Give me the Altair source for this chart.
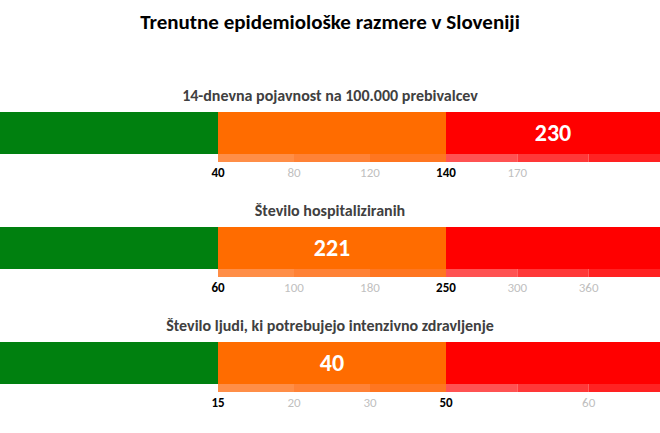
import altair as alt
import pandas as pd

FONT = "Carlito, Lato, 'Open Sans', sans-serif"

main_title = "Trenutne epidemiološke razmere v Sloveniji"
row_titles = [
    "14-dnevna pojavnost na 100.000 prebivalcev",
    "Število hospitaliziranih",
    "Število ljudi, ki potrebujejo intenzivno zdravljenje",
]
current_values = [230, 221, 40]
current_zone = [2, 1, 1]  # 0 green, 1 orange, 2 red

zone_colors = ["#00800F", "#FF6C00", "#FF0000"]
zone_start = [0, 3, 6]
zone_end = [3, 6, 9]

strip_start = [3, 4, 5, 6, 7, 8]
strip_end = [4, 5, 6, 7, 8, 9]
strip_colors = ["#FF8E47", "#FF8236", "#FF7620", "#FF5252", "#FF3838", "#FF2222"]

tick_labels = [
    ["40", "80", "120", "140", "170"],
    ["60", "100", "180", "250", "300", "360"],
    ["15", "20", "30", "50", "60"],
]
tick_slots = [
    [3, 4, 5, 6, 7],
    [3, 4, 5, 6, 7, 8],
    [3, 4, 5, 6, 8],
]
major_slots = [3, 6]

W = 660
H = 68
# piecewise layout scale: zone edges drawn at these pixel positions
xscale = alt.Scale(domain=[0, 3, 6, 9], range=[0, 218, 446, W], nice=False, zero=False)
BAR_TOP, BAR_BOT, STRIP_BOT, LABEL_Y = 0, 42, 50, 61

zones_df = pd.DataFrame({"s": zone_start, "e": zone_end, "c": zone_colors})
strip_df = pd.DataFrame({"s": strip_start, "e": strip_end, "c": strip_colors})


def make_row(i):
    zones = alt.Chart(zones_df).mark_rect().encode(
        x=alt.X("s:Q", scale=xscale, axis=None),
        x2="e:Q",
        y=alt.value(BAR_TOP),
        y2=alt.value(BAR_BOT),
        color=alt.Color("c:N", scale=None),
    )
    strip = alt.Chart(strip_df).mark_rect().encode(
        x=alt.X("s:Q", scale=xscale, axis=None),
        x2="e:Q",
        y=alt.value(BAR_BOT),
        y2=alt.value(STRIP_BOT),
        color=alt.Color("c:N", scale=None),
    )
    tdf = pd.DataFrame({
        "pos": tick_slots[i],
        "lab": tick_labels[i],
        "major": [p in major_slots for p in tick_slots[i]],
    })
    ticks_major = alt.Chart(tdf).transform_filter("datum.major").mark_text(
        font=FONT, fontSize=13, fontWeight="bold", color="#000000", baseline="middle"
    ).encode(x=alt.X("pos:Q", scale=xscale, axis=None), y=alt.value(LABEL_Y), text="lab:N")
    ticks_minor = alt.Chart(tdf).transform_filter("!datum.major").mark_text(
        font=FONT, fontSize=13, color="#BFBFBF", baseline="middle"
    ).encode(x=alt.X("pos:Q", scale=xscale, axis=None), y=alt.value(LABEL_Y), text="lab:N")
    z = current_zone[i]
    vdf = pd.DataFrame({
        "pos": [(zone_start[z] + zone_end[z]) / 2],
        "val": [str(current_values[i])],
    })
    val = alt.Chart(vdf).mark_text(
        font=FONT, fontSize=24, fontWeight="bold", color="white", baseline="middle"
    ).encode(x=alt.X("pos:Q", scale=xscale, axis=None), y=alt.value(22), text="val:N")
    return alt.layer(zones, strip, ticks_major, ticks_minor, val).properties(
        width=W,
        height=H,
        title=alt.TitleParams(
            row_titles[i], font=FONT, fontSize=16, fontWeight="bold",
            color="#404040", anchor="middle", offset=8,
        ),
    )


chart = alt.vconcat(*[make_row(i) for i in range(3)], spacing=23).properties(
    title=alt.TitleParams(
        main_title, font=FONT, fontSize=21, fontWeight="bold", color="#000000",
        anchor="middle", offset=55,
    ),
    padding={"left": 0, "right": 0, "top": 12, "bottom": 0},
    background="white",
).configure_view(stroke=None)

chart.save("out.html", embed_options={"renderer": "svg", "actions": False})
